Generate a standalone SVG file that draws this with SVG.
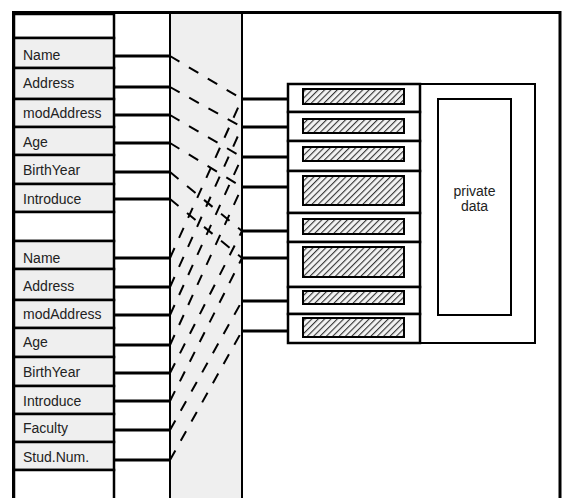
<svg xmlns="http://www.w3.org/2000/svg" width="564" height="498" viewBox="0 0 564 498">
<style>
.lbl{font-family:"Liberation Sans",Arial,sans-serif;font-size:14px;fill:#222}
.box{fill:#efefef;stroke:#000;stroke-width:2.5}
.blank{fill:#fff;stroke:#000;stroke-width:2.5}
.conn{stroke:#000;stroke-width:3;fill:none}
.dash{stroke:#000;stroke-width:2;fill:none;stroke-dasharray:11 11}
.seg{fill:#fff;stroke:#000;stroke-width:2.5}
.hat{fill:url(#hatch);stroke:#000;stroke-width:2}
</style>
<defs>
<pattern id="hatch" width="4.5" height="4.5" patternUnits="userSpaceOnUse" patternTransform="rotate(45)">
<rect width="4.5" height="4.5" fill="#f2f2f2"/>
<line x1="0" y1="0" x2="0" y2="4.5" stroke="#333" stroke-width="2.2"/>
</pattern>
</defs>
<rect x="0" y="0" width="564" height="498" fill="#fff"/>
<g id="frame">
<rect x="170" y="12" width="72" height="490" fill="#efefef"/>
<rect x="13.5" y="12.5" width="546.5" height="495" fill="none" stroke="#000" stroke-width="3"/>
<line x1="114" y1="12" x2="114" y2="498" stroke="#000" stroke-width="2"/>
<line x1="170" y1="12" x2="170" y2="498" stroke="#000" stroke-width="2"/>
<line x1="242" y1="12" x2="242" y2="498" stroke="#000" stroke-width="2"/>
</g>
<g id="base-members">
<rect class="blank" x="14" y="14" width="100" height="24"/>
<g id="b-name"><rect class="box" x="14" y="38" width="100" height="30"/><text class="lbl" x="23" y="60">Name</text></g>
<g id="b-address"><rect class="box" x="14" y="68" width="100" height="31"/><text class="lbl" x="23" y="88">Address</text></g>
<g id="b-modaddress"><rect class="box" x="14" y="99" width="100" height="28"/><text class="lbl" x="23" y="118">modAddress</text></g>
<g id="b-age"><rect class="box" x="14" y="127" width="100" height="28"/><text class="lbl" x="23" y="147">Age</text></g>
<g id="b-birthyear"><rect class="box" x="14" y="155" width="100" height="29"/><text class="lbl" x="23" y="175">BirthYear</text></g>
<g id="b-introduce"><rect class="box" x="14" y="184" width="100" height="28"/><text class="lbl" x="23" y="204">Introduce</text></g>
<rect class="blank" x="14" y="212" width="100" height="29"/>
</g>
<g id="derived-members">
<g id="d-name"><rect class="box" x="14" y="241" width="100" height="28"/><text class="lbl" x="23" y="263">Name</text></g>
<g id="d-address"><rect class="box" x="14" y="269" width="100" height="31"/><text class="lbl" x="23" y="291">Address</text></g>
<g id="d-modaddress"><rect class="box" x="14" y="300" width="100" height="28"/><text class="lbl" x="23" y="319">modAddress</text></g>
<g id="d-age"><rect class="box" x="14" y="328" width="100" height="29"/><text class="lbl" x="23" y="347">Age</text></g>
<g id="d-birthyear"><rect class="box" x="14" y="357" width="100" height="29"/><text class="lbl" x="23" y="377">BirthYear</text></g>
<g id="d-introduce"><rect class="box" x="14" y="386" width="100" height="28"/><text class="lbl" x="23" y="406">Introduce</text></g>
<g id="d-faculty"><rect class="box" x="14" y="414" width="100" height="28"/><text class="lbl" x="23" y="433">Faculty</text></g>
<g id="d-studnum"><rect class="box" x="14" y="442" width="100" height="28"/><text class="lbl" x="23" y="462">Stud.Num.</text></g>
<rect class="blank" x="14" y="470" width="100" height="40"/>
</g>
<g id="object">
<rect x="288" y="84" width="247" height="259" fill="#fff" stroke="#000" stroke-width="2"/>
<g id="seg1"><rect class="seg" x="288" y="84" width="132" height="28"/><rect class="hat" x="303" y="89" width="101" height="15"/></g>
<g id="seg2"><rect class="seg" x="288" y="112" width="132" height="29"/><rect class="hat" x="303" y="119" width="101" height="14"/></g>
<g id="seg3"><rect class="seg" x="288" y="141" width="132" height="30"/><rect class="hat" x="303" y="147" width="101" height="14"/></g>
<g id="seg4"><rect class="seg" x="288" y="171" width="132" height="42"/><rect class="hat" x="303" y="176" width="101" height="29"/></g>
<g id="seg5"><rect class="seg" x="288" y="213" width="132" height="29"/><rect class="hat" x="303" y="219" width="101" height="15"/></g>
<g id="seg6"><rect class="seg" x="288" y="242" width="132" height="45"/><rect class="hat" x="303" y="247" width="101" height="30"/></g>
<g id="seg7"><rect class="seg" x="288" y="287" width="132" height="27"/><rect class="hat" x="303" y="291" width="101" height="13"/></g>
<g id="seg8"><rect class="seg" x="288" y="314" width="132" height="29"/><rect class="hat" x="303" y="318" width="101" height="19"/></g>
<g id="private"><rect x="438" y="99" width="73" height="216" fill="#fff" stroke="#000" stroke-width="2"/>
<text class="lbl" x="474.5" y="196" text-anchor="middle">private</text>
<text class="lbl" x="474.5" y="211" text-anchor="middle">data</text></g>
</g>
<g id="connectors">
<line class="conn" x1="114" y1="56" x2="170" y2="56"/>
<line class="conn" x1="114" y1="87" x2="170" y2="87"/>
<line class="conn" x1="114" y1="115" x2="170" y2="115"/>
<line class="conn" x1="114" y1="143" x2="170" y2="143"/>
<line class="conn" x1="114" y1="172" x2="170" y2="172"/>
<line class="conn" x1="114" y1="199" x2="170" y2="199"/>
<line class="conn" x1="114" y1="258" x2="170" y2="258"/>
<line class="conn" x1="114" y1="287" x2="170" y2="287"/>
<line class="conn" x1="114" y1="315" x2="170" y2="315"/>
<line class="conn" x1="114" y1="345" x2="170" y2="345"/>
<line class="conn" x1="114" y1="373" x2="170" y2="373"/>
<line class="conn" x1="114" y1="401" x2="170" y2="401"/>
<line class="conn" x1="114" y1="430" x2="170" y2="430"/>
<line class="conn" x1="114" y1="460" x2="170" y2="460"/>
<line class="conn" x1="242" y1="99" x2="288" y2="99"/>
<line class="conn" x1="242" y1="127" x2="288" y2="127"/>
<line class="conn" x1="242" y1="157" x2="288" y2="157"/>
<line class="conn" x1="242" y1="187" x2="288" y2="187"/>
<line class="conn" x1="242" y1="231" x2="288" y2="231"/>
<line class="conn" x1="242" y1="258" x2="288" y2="258"/>
<line class="conn" x1="242" y1="301" x2="288" y2="301"/>
<line class="conn" x1="242" y1="331" x2="288" y2="331"/>
<line class="dash" x1="170" y1="56" x2="242" y2="99"/>
<line class="dash" x1="170" y1="87" x2="242" y2="127"/>
<line class="dash" x1="170" y1="115" x2="242" y2="157"/>
<line class="dash" x1="170" y1="143" x2="242" y2="187"/>
<line class="dash" x1="170" y1="172" x2="242" y2="231"/>
<line class="dash" x1="170" y1="199" x2="242" y2="258"/>
<line class="dash" x1="170" y1="258" x2="242" y2="99"/>
<line class="dash" x1="170" y1="287" x2="242" y2="127"/>
<line class="dash" x1="170" y1="315" x2="242" y2="157"/>
<line class="dash" x1="170" y1="345" x2="242" y2="187"/>
<line class="dash" x1="170" y1="373" x2="242" y2="231"/>
<line class="dash" x1="170" y1="401" x2="242" y2="258"/>
<line class="dash" x1="170" y1="430" x2="242" y2="301"/>
<line class="dash" x1="170" y1="460" x2="242" y2="331"/>
</g>
</svg>
